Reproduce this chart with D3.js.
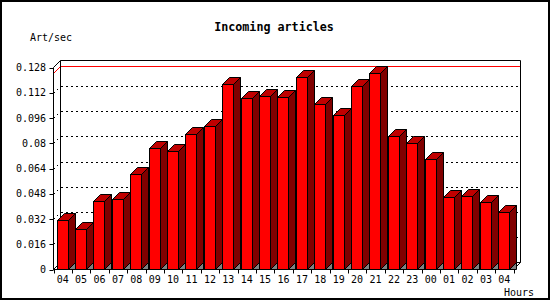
<!DOCTYPE html>
<html>
<head>
<meta charset="utf-8">
<script src="https://cdn.jsdelivr.net/npm/d3@7"></script>
<style>
  body { margin: 0; background: #fff; }
  svg { display: block; }
  text { font-family: "DejaVu Sans Mono", monospace; font-size: 10px; fill: #000; }
</style>
</head>
<body>
<div id="chart"></div>
<script>
var hours = ['04','05','06','07','08','09','10','11','12','13','14','15','16',
             '17','18','19','20','21','22','23','00','01','02','03','04']
var rates = [0.0313, 0.0256, 0.0437, 0.0444, 0.0608, 0.0770, 0.0751, 0.0861,
             0.0909, 0.1177, 0.1088, 0.1099, 0.1092, 0.1221, 0.1051, 0.0981,
             0.1164, 0.1246, 0.0848, 0.0804, 0.0703, 0.0460, 0.0466, 0.0429, 0.0362]
var yTicks = [0, 0.016, 0.032, 0.048, 0.064, 0.08, 0.096, 0.112, 0.128]
var yLabels = ['0', '0.016', '0.032', '0.048', '0.064', '0.08', '0.096', '0.112', '0.128']

var W = 550, H = 300
var depth = 7

var svg = d3.select('#chart').append('svg').attr('width', W).attr('height', H)

// outer frame
svg.append('rect').attr('x', 1).attr('y', 1).attr('width', W - 2).attr('height', H - 2)
  .attr('fill', '#fff').attr('stroke', '#000').attr('stroke-width', 2)

var x = d3.scaleBand().domain(d3.range(hours.length)).range([53.5, 513.5])
  .paddingInner(0.4).paddingOuter(0.2)
var y = d3.scaleLinear().domain([0, 0.128]).range([269.5, 67.5])

var x0 = 53.5, x1 = 513.5, y0 = y(0), yTop = y(0.128)

// dotted grid lines on the back wall
svg.append('g').selectAll('path').data(yTicks.slice(1, -1)).join('path')
  .attr('d', function(v){
    var yy = Math.round(y(v)) + 0.5
    return 'M' + x0 + ',' + yy + 'L' + (x0 + depth) + ',' + (yy - depth) + 'H' + (x1 + depth)
  })
  .attr('fill', 'none').attr('stroke', '#000').attr('stroke-dasharray', '2,3')
  .attr('shape-rendering', 'crispEdges')

// max line
var ym = Math.round(y(d3.max(rates))) + 0.5
svg.append('path')
  .attr('d', 'M' + x0 + ',' + ym + 'L' + (x0 + depth) + ',' + (ym - depth) + 'H' + (x1 + depth))
  .attr('fill', 'none').attr('stroke', '#f00')

// frame of the 3d box
var frame = svg.append('g').attr('fill', 'none').attr('stroke', '#000')
frame.append('path').attr('d',
  'M' + x0 + ',' + y0 + 'V' + yTop + 'L' + (x0 + depth) + ',' + (yTop - depth) +
  'H' + (x1 + depth) + 'V' + (y0 - depth) + 'L' + x1 + ',' + y0 + 'Z')
frame.append('path').attr('d', 'M' + (x0 + depth) + ',' + (yTop - depth) + 'V' + (y0 - depth))
frame.append('path').attr('d', 'M' + x0 + ',' + y0 + 'L' + (x0 + depth) + ',' + (y0 - depth) + 'H' + (x1 + depth))

// bars
var bw = 11
var bars = svg.append('g').selectAll('g').data(rates).join('g')
  .attr('stroke', '#000').attr('stroke-linejoin', 'miter')

function pts(a){ return a.map(function(p){ return p.join(',') }).join(' ') }

bars.each(function(v, i){
  var g = d3.select(this)
  var bx = Math.floor(x(i)) + 0.5
  var yt = Math.round(y(v)) + 0.5
  g.append('polygon').attr('fill', '#808080')
    .attr('points', pts([[bx + bw, y0], [bx + bw + depth, y0 - depth], [bx + bw + depth, y0]]))
  g.append('polygon').attr('fill', '#800000')
    .attr('points', pts([[bx + bw, yt], [bx + bw + depth, yt - depth], [bx + bw + depth, y0 - depth], [bx + bw, y0]]))
  g.append('polygon').attr('fill', '#c00000')
    .attr('points', pts([[bx, yt], [bx + depth, yt - depth], [bx + bw + depth, yt - depth], [bx + bw, yt]]))
  g.append('rect').attr('fill', '#ff0000')
    .attr('x', bx).attr('y', yt).attr('width', bw).attr('height', y0 - yt)
})

// bottom axis line drawn again over bars
svg.append('path').attr('d', 'M' + x0 + ',' + y0 + 'H' + x1).attr('stroke', '#000')

// y ticks and labels
var yAx = svg.append('g')
yAx.selectAll('line').data(yTicks).join('line')
  .attr('x1', x0 - 4).attr('x2', x0)
  .attr('y1', function(v){ return Math.round(y(v)) + 0.5 })
  .attr('y2', function(v){ return Math.round(y(v)) + 0.5 })
  .attr('stroke', '#000')
yAx.selectAll('text').data(yTicks).join('text')
  .attr('x', 46).attr('y', function(v){ return y(v) + 3.5 })
  .attr('text-anchor', 'end')
  .text(function(v, i){ return yLabels[i] })

// x ticks and labels
var xAx = svg.append('g')
xAx.selectAll('line').data(d3.range(hours.length + 1)).join('line')
  .attr('x1', function(i){ return Math.round(x0 + x.step() * i) + 0.5 })
  .attr('x2', function(i){ return Math.round(x0 + x.step() * i) + 0.5 })
  .attr('y1', y0).attr('y2', y0 + 4)
  .attr('stroke', '#000')
xAx.selectAll('text').data(hours).join('text')
  .attr('x', function(d, i){ return x0 + x.step() * (i + 0.5) })
  .attr('y', 283)
  .attr('text-anchor', 'middle')
  .text(function(d){ return d })

svg.append('text').attr('x', 274).attr('y', 31).attr('text-anchor', 'middle')
  .style('font-weight', 'bold').style('font-size', '11.7px')
  .text('Incoming articles')
svg.append('text').attr('x', 30).attr('y', 41).text('Art/sec')
svg.append('text').attr('x', 534).attr('y', 296).attr('text-anchor', 'end').text('Hours')
</script>
</body>
</html>
